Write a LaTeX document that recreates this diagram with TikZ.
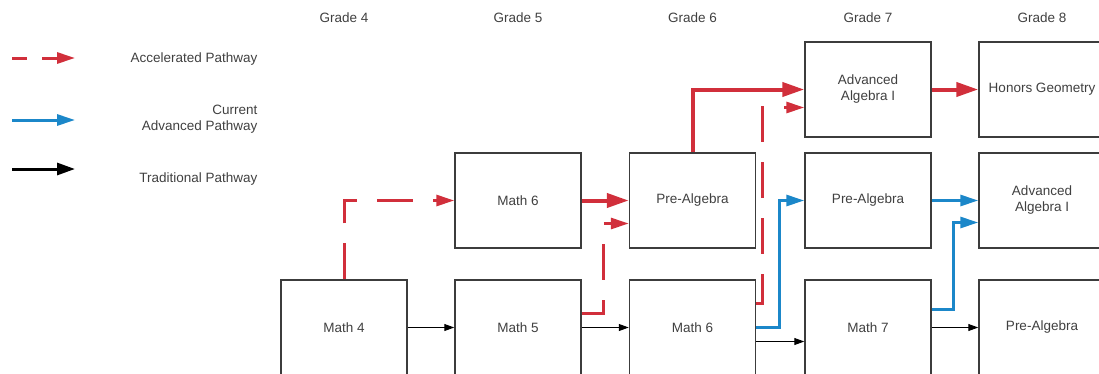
\documentclass[tikz,border=0pt]{standalone}
\usepackage{fontspec}
\setmainfont{Liberation Sans}
\usetikzlibrary{arrows.meta}

\definecolor{accred}{HTML}{D12F3B}
\definecolor{advblue}{HTML}{1B87C9}
\definecolor{boxline}{HTML}{3C3C3C}
\definecolor{txtgray}{HTML}{404040}

\tikzset{
  course/.style={draw=boxline, line width=1.5pt, fill=white, minimum width=126pt,
    minimum height=95pt, align=center, text=txtgray, inner sep=0pt},
  gradelbl/.style={text=txtgray},
  keylbl/.style={text=txtgray, anchor=east, align=right},
  accel/.style={accred, line width=3pt, dash pattern=on 36pt off 20pt,
    -{Triangle[length=18pt,width=11pt]}},
  accelfast/.style={accred, line width=4pt, -{Triangle[length=22pt,width=14pt]}},
  advanced/.style={advblue, line width=3pt, -{Triangle[length=18pt,width=11pt]}},
  traditional/.style={black, line width=1pt, -{Triangle[length=10pt,width=7pt]}}
}

\begin{document}
\begin{tikzpicture}[x=1pt, y=-1pt, font=\fontsize{13.5}{16}\selectfont]
\useasboundingbox (0,0) rectangle (1099,373);
\begin{scope}
\clip (0,0) rectangle (1099,373);

% grade headings
\foreach \x/\g in {344/4, 518/5, 692.5/6, 868/7, 1042/8}
  \node[gradelbl] (grade\g) at (\x,18) {Grade \g};

% courses
\node[course] (g4c) at (344,327.5) {Math 4};
\node[course] (g5b) at (518,200.5) {Math 6};
\node[course] (g5c) at (518,327.5) {Math 5};
\node[course] (g6b) at (692.5,200.5) {Pre-Algebra};
\node[course] (g6c) at (692.5,327.5) {Math 6};
\node[course] (g7a) at (868,89.5) {Advanced\\Algebra I};
\node[course] (g7b) at (868,200.5) {Pre-Algebra};
\node[course] (g7c) at (868,327.5) {Math 7};
\node[course] (g8a) at (1042,89.5) {Honors Geometry};
\node[course] (g8b) at (1042,200.5) {Advanced\\Algebra I};
\node[course] (g8c) at (1042,327.5) {Pre-Algebra};

% traditional pathway
\draw[traditional] (g4c.east) -- (g5c.west);
\draw[traditional] (g5c.east) -- (g6c.west);
\draw[traditional] ([yshift=-14pt]g6c.east) -- ([yshift=-14pt]g7c.west);
\draw[traditional] (g7c.east) -- (g8c.west);

% current advanced pathway
\draw[advanced] (g6c.east) -| ([xshift=-25pt]g7b.west) -- (g7b.west);
\draw[advanced] (g7b.east) -- (g8b.west);
\draw[advanced] ([yshift=18pt]g7c.east) -| ([xshift=-25pt,yshift=-22pt]g8b.west)
  -- ([yshift=-22pt]g8b.west);

% accelerated pathway
\draw[accel] (g4c.north) |- (g5b.west);
\draw[accelfast] (g5b.east) -- (g6b.west);
\draw[accel] ([yshift=14pt]g5c.east) -| ([xshift=-25pt,yshift=-23pt]g6b.west)
  -- ([yshift=-23pt]g6b.west);
\draw[accelfast] (g6b.north) |- (g7a.west);
\draw[accel] ([yshift=24pt]g6c.east) -| ([xshift=-42pt,yshift=-18pt]g7a.west)
  -- ([yshift=-18pt]g7a.west);
\draw[accelfast] (g7a.east) -- (g8a.west);

% legend
\coordinate (key1a) at (12,58);  \coordinate (key1b) at (75,58);
\coordinate (key2a) at (12,120); \coordinate (key2b) at (75,120);
\coordinate (key3a) at (12,169); \coordinate (key3b) at (75,169);
\draw[accel, dash pattern=on 15pt off 15pt] (key1a) -- (key1b);
\draw[advanced] (key2a) -- (key2b);
\draw[traditional, line width=3pt, -{Triangle[length=18pt,width=12pt]}] (key3a) -- (key3b);
\node[keylbl] (key1) at (261,59) {Accelerated Pathway};
\node[keylbl] (key2) at (261,119) {Current\\Advanced Pathway};
\node[keylbl] (key3) at (261,179) {Traditional Pathway};
\end{scope}
\end{tikzpicture}
\end{document}
